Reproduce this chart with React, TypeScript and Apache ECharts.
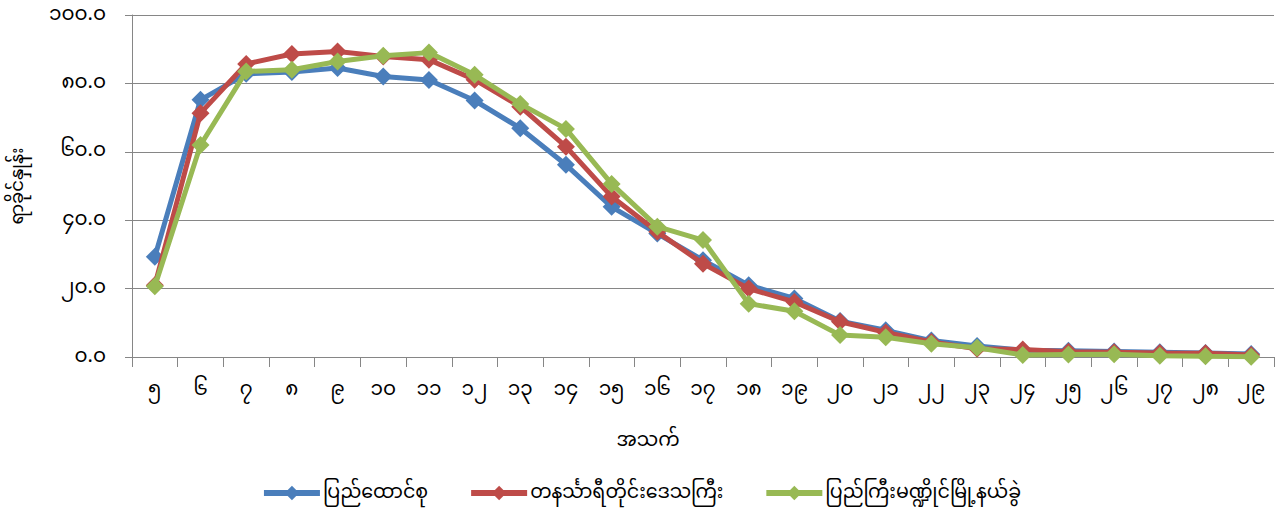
import React, { useEffect, useRef } from "react";
import * as echarts from "echarts";

const categories = ["၅", "၆", "၇", "၈", "၉", "၁၀", "၁၁", "၁၂", "၁၃", "၁၄", "၁၅", "၁၆", "၁၇", "၁၈", "၁၉", "၂၀", "၂၁", "၂၂", "၂၃", "၂၄", "၂၅", "၂၆", "၂၇", "၂၈", "၂၉"];

const seriesNames = ["ပြည်ထောင်စု", "တနင်္သာရီတိုင်းဒေသကြီး", "ပြည်ကြီးမဏ္ဍိုင်မြို့နယ်ခွဲ"];

const unionValues = [29.3, 75.2, 82.8, 83.3, 84.5, 82.0, 81.0, 75.0, 66.9, 56.2, 43.9, 36.1, 28.3, 21.0, 17.1, 10.5, 7.8, 4.8, 3.2, 2.0, 1.8, 1.6, 1.4, 1.2, 0.9];
const tanintharyiValues = [21.0, 71.3, 85.7, 88.6, 89.3, 87.9, 86.9, 81.1, 73.2, 61.5, 46.9, 36.6, 27.3, 20.0, 16.1, 10.3, 7.2, 4.4, 2.4, 2.2, 1.5, 1.4, 1.2, 1.1, 0.6];
const pyinmanaValues = [20.7, 62.0, 83.5, 84.0, 86.4, 88.1, 89.0, 82.5, 74.0, 66.7, 50.6, 38.1, 34.2, 15.6, 13.4, 6.4, 5.8, 3.9, 2.7, 0.6, 0.7, 0.8, 0.4, 0.2, 0.1];

const yTicks = ["၀.၀", "၂၀.၀", "၄၀.၀", "၆၀.၀", "၈၀.၀", "၁၀၀.၀"];

const colors = ["#4A7EBB", "#BE4B48", "#98B954"];

const xTitle = "အသက်";
const yTitle = "ရာခိုင်နှုန်း";

const FONT = "'Noto Sans Myanmar', 'Myanmar Text', Padauk, 'Noto Sans', sans-serif";

export default function App() {
  const ref = useRef<HTMLDivElement>(null);
  useEffect(() => {
    if (!ref.current) return;
    const chart = echarts.init(ref.current, null, { renderer: "svg" });
    const data = [unionValues, tanintharyiValues, pyinmanaValues];
    chart.setOption({
      animation: false,
      backgroundColor: "#ffffff",
      textStyle: { fontFamily: FONT },
      grid: { left: 127, right: 8, top: 15, bottom: 157, containLabel: false },
      legend: {
        bottom: 5,
        left: "center",
        itemWidth: 56,
        itemHeight: 18,
        itemGap: 40,
        lineStyle: { width: 6 },
        textStyle: { fontSize: 19, lineHeight: 22, color: "#000", fontFamily: FONT, padding: [0, 0, 0, -2] },
        data: seriesNames,
      },
      graphic: [
        {
          type: "text",
          x: 648,
          y: 441,
          style: {
            text: xTitle,
            fontSize: 19,
            lineHeight: 22,
            fill: "#000",
            fontFamily: FONT,
            align: "center",
            verticalAlign: "middle",
          },
        },
      ],
      xAxis: {
        type: "category",
        data: categories,
        boundaryGap: true,
        axisLine: { lineStyle: { color: "#868686", width: 1 } },
        axisTick: { show: true, length: 10, alignWithLabel: false, lineStyle: { color: "#868686" } },
        axisLabel: { fontSize: 20, lineHeight: 22, color: "#000", margin: 22, interval: 0, fontFamily: FONT },
      },
      yAxis: {
        type: "value",
        min: 0,
        max: 100,
        interval: 20,
        name: yTitle,
        nameLocation: "middle",
        nameGap: 104,
        nameRotate: 90,
        nameTextStyle: { fontSize: 18, lineHeight: 20, color: "#000", fontFamily: FONT },
        axisLine: { show: true, lineStyle: { color: "#868686", width: 1 } },
        axisTick: { show: true, length: 7, lineStyle: { color: "#868686" } },
        splitLine: { lineStyle: { color: "#868686", width: 1 } },
        axisLabel: {
          fontSize: 20,
          lineHeight: 22,
          color: "#000",
          margin: 26,
          fontFamily: FONT,
          formatter: (v: number) => yTicks[Math.round(v / 20)],
        },
      },
      series: seriesNames.map((name, i) => ({
        name,
        type: "line",
        data: data[i],
        color: colors[i],
        symbol: "diamond",
        symbolSize: 18,
        lineStyle: { width: 5, color: colors[i] },
        itemStyle: { color: colors[i] },
        z: 2 + i,
      })),
    });
    return () => chart.dispose();
  }, []);
  return (
    <div
      ref={ref}
      style={{ position: "absolute", left: 0, top: 0, width: 1282, height: 514 }}
    />
  );
}
